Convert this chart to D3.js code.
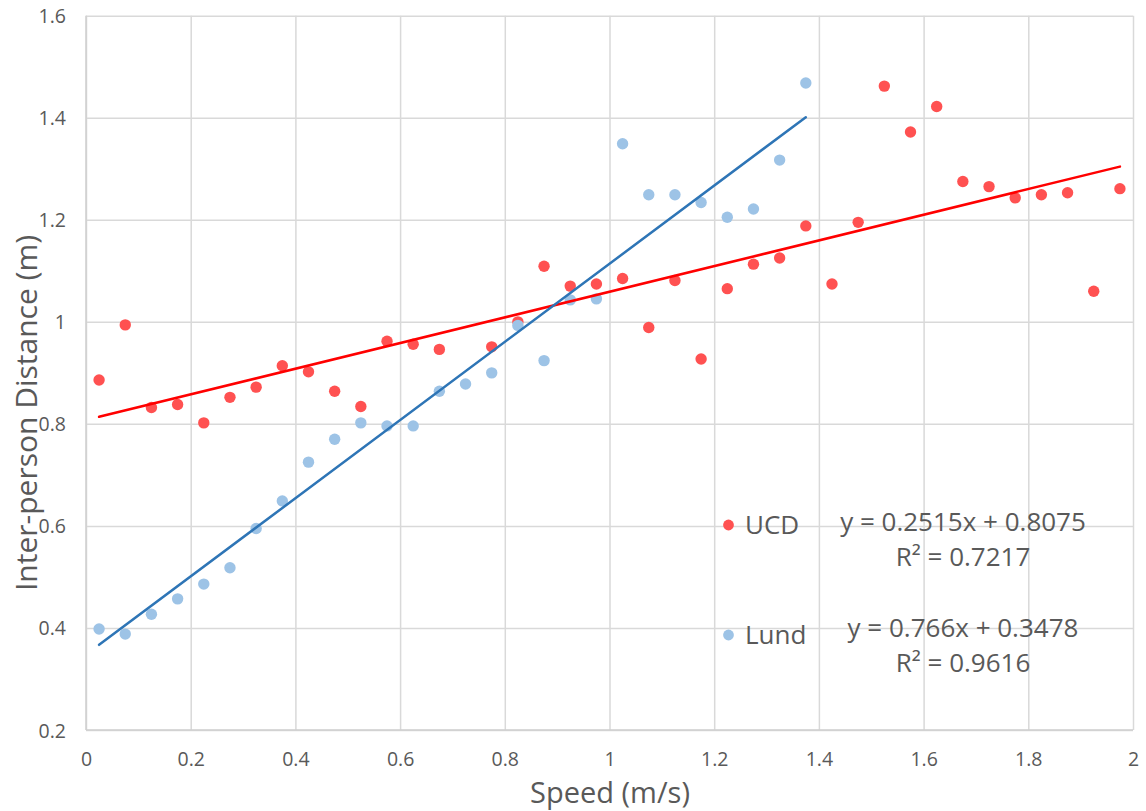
<!DOCTYPE html>
<html>
<head>
<meta charset="utf-8">
<script src="https://cdn.jsdelivr.net/npm/d3@7"></script>
<style>
  html, body { margin: 0; padding: 0; background: #fff; }
  svg { display: block; font-family: "Open Sans", "Noto Sans", sans-serif; }
</style>
</head>
<body>
<svg id="chart" width="1146" height="811"></svg>
<script>
// Walking speed bins (m/s), bin centres
const speedBins = [0.025, 0.075, 0.125, 0.175, 0.225, 0.275, 0.325, 0.375, 0.425, 0.475,
                   0.525, 0.575, 0.625, 0.675, 0.725, 0.775, 0.825, 0.875, 0.925, 0.975,
                   1.025, 1.075, 1.125, 1.175, 1.225, 1.275, 1.325, 1.375, 1.425, 1.475,
                   1.525, 1.575, 1.625, 1.675, 1.725, 1.775, 1.825, 1.875, 1.925, 1.975];

// Mean inter-person distance (m) per speed bin
const ucdDistance = [0.886, 0.994, 0.832, 0.838, 0.802, 0.852, 0.872, 0.914, 0.902, 0.864,
                     0.834, 0.962, 0.956, 0.946, null,  0.951, 1.000, 1.109, 1.070, 1.074,
                     1.085, 0.989, 1.081, 0.927, 1.065, 1.113, 1.125, 1.188, 1.074, 1.195,
                     1.462, 1.372, 1.422, 1.275, 1.265, 1.243, 1.249, 1.253, 1.060, 1.261];
const lundDistance = [0.398, 0.388, 0.427, 0.457, 0.486, 0.518, 0.595, 0.649, 0.725, 0.770,
                      0.802, 0.796, 0.796, 0.864, 0.878, 0.900, 0.993, 0.924, 1.043, 1.045,
                      1.349, 1.249, 1.249, 1.234, 1.205, 1.221, 1.317, 1.468];

// Linear trendlines: [slope, intercept, R²]
const ucdFit = [0.2515, 0.8075, 0.7217];
const lundFit = [0.766, 0.3478, 0.9616];

const seriesNames = ["UCD", "Lund"];
const xTicks = [0, 0.2, 0.4, 0.6, 0.8, 1, 1.2, 1.4, 1.6, 1.8, 2];
const yTicks = [0.2, 0.4, 0.6, 0.8, 1, 1.2, 1.4, 1.6];
const xTitle = "Speed (m/s)";
const yTitle = "Inter-person Distance (m)";

const ucdColor = "#FF5151", ucdLine = "#FF0000";
const lundColor = "#9DC3E6", lundLine = "#2E75B6";
const textColor = "#595959";

const svg = d3.select("#chart");
const plot = { left: 86, right: 1133, top: 15.7, bottom: 730 };

const x = d3.scaleLinear().domain([0, 2]).range([plot.left, plot.right]);
const y = d3.scaleLinear().domain([0.2, 1.6]).range([plot.bottom, plot.top]);

const fmt = d => String(+d.toFixed(1));

// Gridlines + tick labels
const gx = svg.append("g")
  .attr("transform", `translate(0,${plot.bottom})`)
  .call(d3.axisBottom(x).tickValues(xTicks).tickFormat(fmt)
        .tickSizeInner(-(plot.bottom - plot.top)).tickSizeOuter(0).tickPadding(0));
const gy = svg.append("g")
  .attr("transform", `translate(${plot.left},0)`)
  .call(d3.axisLeft(y).tickValues(yTicks).tickFormat(fmt)
        .tickSizeInner(-(plot.right - plot.left)).tickSizeOuter(0).tickPadding(0));

[gx, gy].forEach(g => {
  g.select(".domain").remove();
  g.selectAll(".tick line").attr("stroke", "#D9D9D9").attr("stroke-width", 1.5);
  g.selectAll(".tick text")
    .attr("fill", textColor)
    .style("font-family", '"Open Sans", sans-serif')
    .style("font-size", "19.5px");
});
gx.selectAll(".tick text").attr("y", 35.5).attr("dy", null);
gy.selectAll(".tick text").attr("x", -20).attr("dy", "0.36em");

// Plot-area edges on the axes
svg.append("line").attr("x1", plot.left).attr("x2", plot.left)
  .attr("y1", plot.top).attr("y2", plot.bottom)
  .attr("stroke", "#CFCFCF").attr("stroke-width", 1.5);
svg.append("line").attr("x1", plot.left).attr("x2", plot.right)
  .attr("y1", plot.bottom).attr("y2", plot.bottom)
  .attr("stroke", "#CFCFCF").attr("stroke-width", 1.5);

// Markers
const ucdPts = speedBins.map((s, i) => [s, ucdDistance[i]]).filter(d => d[1] != null);
const lundPts = lundDistance.map((v, i) => [speedBins[i], v]);
const r = 5.7;

svg.append("g").selectAll("circle").data(ucdPts).join("circle")
  .attr("cx", d => x(d[0])).attr("cy", d => y(d[1])).attr("r", r).attr("fill", ucdColor);
svg.append("g").selectAll("circle").data(lundPts).join("circle")
  .attr("cx", d => x(d[0])).attr("cy", d => y(d[1])).attr("r", r).attr("fill", lundColor);

// Trendlines over the sampled range of each series
function trend(fit, pts, color) {
  const x0 = d3.min(pts, d => d[0]), x1 = d3.max(pts, d => d[0]);
  svg.append("line")
    .attr("x1", x(x0)).attr("y1", y(fit[0] * x0 + fit[1]))
    .attr("x2", x(x1)).attr("y2", y(fit[0] * x1 + fit[1]))
    .attr("stroke", color).attr("stroke-width", 2.5).attr("stroke-linecap", "round");
}
trend(ucdFit, ucdPts, ucdLine);
trend(lundFit, lundPts, lundLine);

// Legend
const legend = [
  { name: seriesNames[0], color: ucdColor, cy: 525 },
  { name: seriesNames[1], color: lundColor, cy: 635 }
];
legend.forEach(l => {
  svg.append("circle").attr("cx", 728.5).attr("cy", l.cy).attr("r", 5.4).attr("fill", l.color);
  svg.append("text").attr("x", 745).attr("y", l.cy + 8.5)
    .attr("fill", textColor).style("font-size", "26px").text(l.name);
});

// Trendline equations
const eqs = [
  { fit: ucdFit, y0: 531 },
  { fit: lundFit, y0: 637 }
];
eqs.forEach(e => {
  svg.append("text").attr("x", 963).attr("y", e.y0).attr("text-anchor", "middle")
    .attr("fill", textColor).style("font-size", "26px")
    .text(`y = ${e.fit[0]}x + ${e.fit[1]}`);
  svg.append("text").attr("x", 963).attr("y", e.y0 + 35).attr("text-anchor", "middle")
    .attr("fill", textColor).style("font-size", "26px")
    .text(`R² = ${e.fit[2]}`);
});

// Axis titles
svg.append("text").attr("x", 610).attr("y", 803).attr("text-anchor", "middle")
  .attr("fill", textColor).style("font-size", "29px").text(xTitle);
svg.append("text")
  .attr("transform", "translate(37,413) rotate(-90)")
  .attr("text-anchor", "middle")
  .attr("fill", textColor).style("font-size", "30px").text(yTitle);
</script>
</body>
</html>
